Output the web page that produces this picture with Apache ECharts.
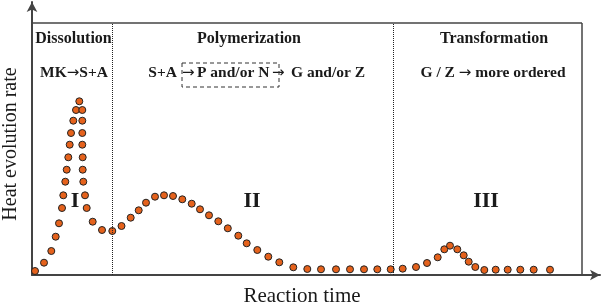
<!DOCTYPE html>
<html><head><meta charset="utf-8">
<script src="https://cdn.jsdelivr.net/npm/echarts@6/dist/echarts.min.js"></script>
<style>html,body{margin:0;padding:0;background:#fff}#c{width:602px;height:305px}</style>
</head><body><div id="c"></div>
<script>
// Reaction time (arbitrary units) and heat evolution rate (arbitrary units)
const timeValues = [3,12,19.3,23.7,27,30,31.3,33.3,34.7,36.3,37.7,39,41.3,44,47.3,
  50.3,50.3,50.3,50.3,50.7,50.7,51.3,53,54.7,60.7,70,80.3,89.5,98.7,106.7,114,123,132,141,
  150.3,159.7,168,177,186.3,195.8,206.3,214.7,225.3,236.3,247.3,261.3,275.3,289,304,318,332,
  345.3,358.7,370.7,384,395,405.7,412.3,418,425.3,431.7,436.7,443.3,452.3,463.7,475.7,488.3,501.7,518];
const heatValues = [4,12.3,24,38.3,51.7,67,79.7,93.3,105.3,117.7,130.3,142,154.3,165,173.7,
  165,154.3,142,130.3,117.7,105.3,93.3,79.7,67,53.3,45,44,49,57.3,64.7,72.3,78.3,79.7,79,
  75.7,71.3,65.7,59.7,53.7,46.7,39.3,31.7,25,18.3,12.7,7.7,6,5.7,5.7,5.7,5.7,
  5.7,5.7,6.3,8,12,17.7,25.7,29.3,25.7,19.7,13.3,8,5,5.3,5.3,5.3,5.3,5.3];
const stageBoundaries = [80.5, 361.5];
const frameTop = 252, frameRight = 550;
const stageTitles = ['Dissolution', 'Polymerization', 'Transformation'];
const stageReactions = [['MK', 'S+A'], ['S+A', 'P and/or N', 'G and/or Z'], ['G / Z ', ' more ordered']];
const stageNumerals = ['I', 'II', 'III'];

const chart = echarts.init(document.getElementById('c'));
const pts = timeValues.map((t, i) => [t, heatValues[i]]);
const serif = '"Liberation Serif", "Times New Roman", serif';
const rich = {
  b: { fontFamily: serif, fontWeight: 'bold', fontSize: 15.5, fill: '#1a1a1a' },
  a: { fontFamily: '"DejaVu Sans", sans-serif', fontWeight: 'normal', fontSize: 15, fill: '#1a1a1a' }
};
const richText = (x, y, text, align) => ({
  type: 'text', x: x, y: y,
  style: { text: text, rich: rich, fill: '#1a1a1a', align: align || 'center', verticalAlign: 'middle' }
});
const boldText = (x, y, text, size, align) => ({
  type: 'text', x: x, y: y,
  style: { text: text, font: 'bold ' + size + 'px ' + serif, fill: '#1a1a1a', align: align || 'center', verticalAlign: 'middle' }
});
const AR = '{a|\u2192}';
const r0 = stageReactions[0], r1 = stageReactions[1], r2 = stageReactions[2];
chart.setOption({
  animation: false,
  grid: { left: 32, right: 2, top: 2, bottom: 30 },
  xAxis: { type: 'value', min: 0, max: 568,
    axisLine: { lineStyle: { color: '#444', width: 2 }, symbol: ['none', 'arrow'], symbolSize: [8, 10] },
    axisTick: { show: false }, axisLabel: { show: false }, splitLine: { show: false } },
  yAxis: { type: 'value', min: 0, max: 273,
    axisLine: { lineStyle: { color: '#444', width: 2 }, symbol: ['none', 'arrow'], symbolSize: [8, 10] },
    axisTick: { show: false }, axisLabel: { show: false }, splitLine: { show: false } },
  series: [{
    type: 'scatter', data: pts, symbolSize: 7,
    itemStyle: { color: '#E5621C', borderColor: '#222', borderWidth: 1, opacity: 1 },
    markLine: {
      silent: true, symbol: 'none', label: { show: false },
      data: [
        [{ coord: [0, frameTop], lineStyle: { type: 'solid', color: '#444', width: 1.5 } }, { coord: [frameRight, frameTop] }],
        [{ coord: [frameRight, 0], lineStyle: { type: 'solid', color: '#444', width: 1.5 } }, { coord: [frameRight, frameTop] }],
        [{ coord: [stageBoundaries[0], 0], lineStyle: { type: 'dotted', color: '#222', width: 1 } }, { coord: [stageBoundaries[0], frameTop] }],
        [{ coord: [stageBoundaries[1], 0], lineStyle: { type: 'dotted', color: '#222', width: 1 } }, { coord: [stageBoundaries[1], frameTop] }]
      ]
    }
  }],
  graphic: [
    boldText(73.5, 39, stageTitles[0], 16),
    boldText(249, 39, stageTitles[1], 16),
    boldText(494, 39, stageTitles[2], 16),
    richText(74, 73, '{b|' + r0[0] + '}' + AR + '{b|' + r0[1] + '}'),
    richText(177, 73, '{b|' + r1[0] + '}', 'right'),
    richText(182, 73, AR, 'left'),
    richText(197, 73, '{b|' + r1[1] + '}', 'left'),
    richText(272, 73, AR, 'left'),
    richText(291, 73, '{b|' + r1[2] + '}', 'left'),
    richText(493, 73, '{b|' + r2[0] + '}' + AR + '{b|' + r2[1] + '}'),
    { type: 'rect', shape: { x: 182, y: 63, width: 97, height: 24 },
      style: { fill: 'none', stroke: '#333', lineWidth: 1, lineDash: [4, 3] } },
    boldText(75, 201, stageNumerals[0], 22),
    boldText(252, 201, stageNumerals[1], 22),
    boldText(486, 201, stageNumerals[2], 22),
    { type: 'text', x: 11, y: 144, rotation: Math.PI / 2,
      style: { text: 'Heat evolution rate', font: '20px ' + serif, fill: '#1a1a1a', align: 'center', verticalAlign: 'middle' } },
    { type: 'text', x: 302, y: 296,
      style: { text: 'Reaction time', font: '21px ' + serif, fill: '#1a1a1a', align: 'center', verticalAlign: 'middle' } }
  ]
});
</script></body></html>
